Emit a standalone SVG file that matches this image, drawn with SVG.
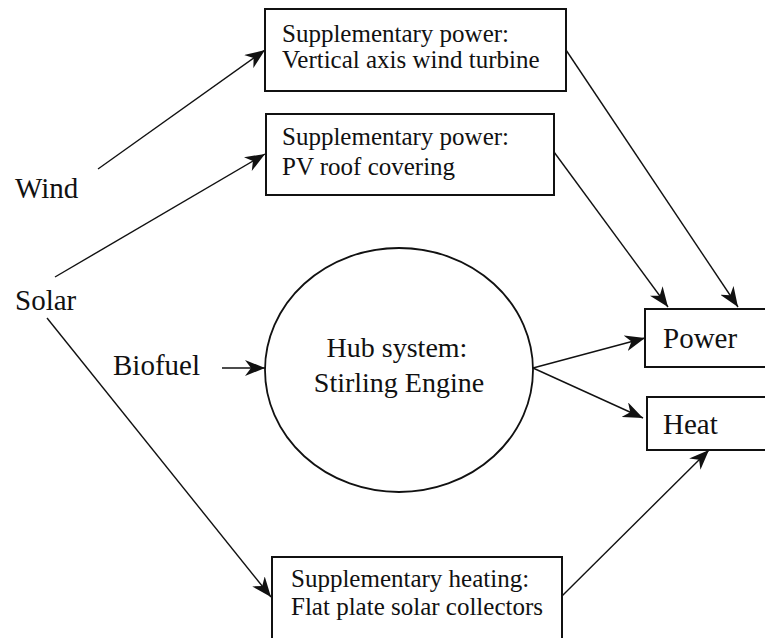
<svg xmlns="http://www.w3.org/2000/svg" width="765" height="638" viewBox="0 0 765 638">
<style>
.box{fill:#fff;stroke:#111;stroke-width:2}
.t{font-family:"Liberation Serif","Times New Roman",serif;fill:#111}
.s{font-size:25px}
.l{font-size:29px}
.h{font-size:28px}
.c{fill:none;stroke:#111;stroke-width:1.4;marker-end:url(#ah)}
</style>
<defs>
<marker id="ah" markerUnits="userSpaceOnUse" markerWidth="22" markerHeight="16" refX="20" refY="8" orient="auto">
<path d="M0,0 L20,8 L0,16 L6,8 z" fill="#111"/>
</marker>
</defs>
<rect width="765" height="638" fill="#fff"/>
<g id="connectors">
<line class="c" x1="98" y1="169" x2="265" y2="50"/>
<line class="c" x1="55" y1="277" x2="265" y2="154"/>
<line class="c" x1="47" y1="318" x2="271" y2="597"/>
<line class="c" x1="222" y1="368" x2="265" y2="368"/>
<line class="c" x1="566" y1="50" x2="738" y2="307"/>
<line class="c" x1="554" y1="152" x2="668" y2="307"/>
<line class="c" x1="533" y1="368" x2="645" y2="338"/>
<line class="c" x1="533" y1="368" x2="643" y2="418"/>
<line class="c" x1="562" y1="596" x2="709" y2="450"/>
</g>
<g id="wind"><text class="t l" x="15" y="198">Wind</text></g>
<g id="solar"><text class="t l" x="15" y="310">Solar</text></g>
<g id="biofuel"><text class="t l" x="113" y="375">Biofuel</text></g>
<g id="wind-turbine">
<rect class="box" x="265" y="9" width="301" height="82"/>
<text class="t s" x="282" y="42">Supplementary power:</text>
<text class="t s" x="282" y="68">Vertical axis wind turbine</text>
</g>
<g id="pv-roof">
<rect class="box" x="266" y="114" width="288" height="81"/>
<text class="t s" x="282" y="145">Supplementary power:</text>
<text class="t s" x="282" y="175">PV roof covering</text>
</g>
<g id="hub">
<ellipse cx="399" cy="370" rx="134" ry="122" fill="#fff" stroke="#111" stroke-width="1.8"/>
<text class="t h" x="397" y="357" text-anchor="middle">Hub system:</text>
<text class="t h" x="399" y="392" text-anchor="middle">Stirling Engine</text>
</g>
<g id="power">
<rect class="box" x="645" y="309" width="130" height="58"/>
<text class="t l" x="663" y="348">Power</text>
</g>
<g id="heat">
<rect class="box" x="647" y="397" width="130" height="53"/>
<text class="t l" x="663" y="434">Heat</text>
</g>
<g id="flat-plate">
<rect class="box" x="272" y="557" width="290" height="85"/>
<text class="t s" x="291" y="587">Supplementary heating:</text>
<text class="t s" x="291" y="615">Flat plate solar collectors</text>
</g>
</svg>
